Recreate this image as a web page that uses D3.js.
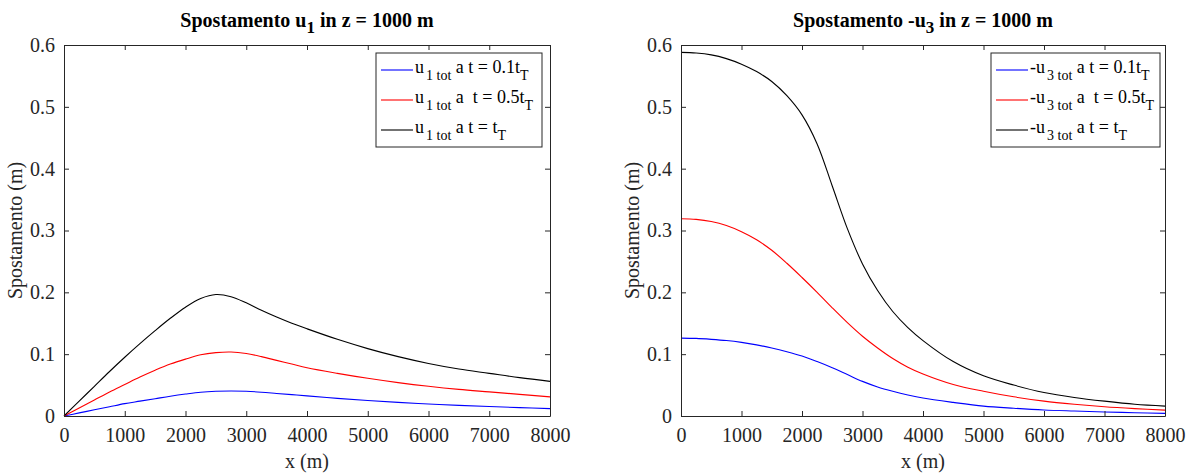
<!DOCTYPE html>
<html>
<head>
<meta charset="utf-8">
<script src="https://cdn.jsdelivr.net/npm/d3@7"></script>
<style>
  html, body { margin: 0; padding: 0; background: #fff; }
  svg text { font-family: "Liberation Serif", "Times New Roman", serif; }
</style>
</head>
<body>
<div id="chart"></div>
<script>
// distances along x (m)
const xVals = [0, 250, 500, 750, 1000, 1250, 1500, 1750, 2000, 2250, 2500, 2750, 3000,
    3250, 3500, 3750, 4000, 4500, 5000, 5500, 6000, 6500, 7000, 7500, 8000];

// u1 tot (m)
const u1Early = [0, 0.005, 0.010, 0.015, 0.020, 0.024, 0.028, 0.032, 0.0355, 0.0385, 0.040, 0.0405, 0.040,
    0.0385, 0.0365, 0.0345, 0.0325, 0.0285, 0.025, 0.022, 0.0195, 0.0172, 0.0153, 0.0136, 0.012];
const u1Mid = [0, 0.013, 0.026, 0.039, 0.051, 0.063, 0.074, 0.084, 0.092, 0.099, 0.1025, 0.1035, 0.101,
    0.096, 0.090, 0.084, 0.078, 0.069, 0.061, 0.054, 0.048, 0.043, 0.039, 0.035, 0.031];
const u1End = [0, 0.024, 0.048, 0.072, 0.095, 0.117, 0.138, 0.158, 0.176, 0.190, 0.1965, 0.193, 0.183,
    0.171, 0.160, 0.150, 0.141, 0.124, 0.109, 0.096, 0.085, 0.076, 0.069, 0.062, 0.056];

// -u3 tot (m)
const u3Early = [0.126, 0.1255, 0.124, 0.122, 0.119, 0.115, 0.110, 0.104, 0.097, 0.088, 0.078, 0.067, 0.056,
    0.047, 0.040, 0.034, 0.029, 0.022, 0.016, 0.0125, 0.0097, 0.008, 0.0065, 0.0053, 0.0043];
const u3Mid = [0.319, 0.318, 0.3145, 0.308, 0.298, 0.285, 0.268, 0.247, 0.224, 0.200, 0.175, 0.151, 0.129,
    0.110, 0.093, 0.079, 0.068, 0.051, 0.040, 0.031, 0.024, 0.019, 0.015, 0.012, 0.0095];
const u3End = [0.588, 0.587, 0.584, 0.578, 0.569, 0.557, 0.541, 0.518, 0.487, 0.440, 0.372, 0.303, 0.246,
    0.203, 0.169, 0.143, 0.122, 0.088, 0.065, 0.050, 0.038, 0.030, 0.024, 0.019, 0.016];

const xTicks = [0, 1000, 2000, 3000, 4000, 5000, 6000, 7000, 8000];
const yTicks = [0, 0.1, 0.2, 0.3, 0.4, 0.5, 0.6];
const seriesColors = ["#0000ff", "#ff0000", "#000000"];
const timeLabels = ["a t = 0.1t", "a  t = 0.5t", "a t = t"];

const width = 1199, height = 473;
const axisColor = "#262626";

const svg = d3.select("#chart").append("svg")
    .attr("width", width)
    .attr("height", height);

const panels = [
    { left: 64, right: 550, top: 45, bottom: 416, pre: "Spostamento u", sub: "1",
      symbol: "u", symSub: "1 tot", series: [u1Early, u1Mid, u1End],
      legend: { x: 376, y: 53, w: 166, h: 94 } },
    { left: 681, right: 1165, top: 45, bottom: 416, pre: "Spostamento -u", sub: "3",
      symbol: "-u", symSub: "3 tot", series: [u3Early, u3Mid, u3End],
      legend: { x: 991, y: 53, w: 169, h: 94 } }
];

panels.forEach(drawPanel);

function drawPanel(p) {
    const x = d3.scaleLinear().domain([0, 8000]).range([p.left, p.right]);
    const y = d3.scaleLinear().domain([0, 0.6]).range([p.bottom, p.top]);

    const g = svg.append("g");

    // curves
    const line = d3.line()
        .x((d, i) => x(xVals[i]))
        .y(d => y(d))
        .curve(d3.curveCatmullRom.alpha(0.5));

    p.series.forEach((s, i) => {
        g.append("path")
            .datum(s)
            .attr("fill", "none")
            .attr("stroke", seriesColors[i])
            .attr("stroke-width", 1.1)
            .attr("d", line);
    });

    // axes, ticks pointing inward on all sides
    const bottomAxis = d3.axisBottom(x).tickValues(xTicks).tickFormat(d3.format("d"))
        .tickSizeInner(-5).tickSizeOuter(0).tickPadding(12);
    const leftAxis = d3.axisLeft(y).tickValues(yTicks).tickFormat(d => d === 0 ? "0" : d3.format(".1f")(d))
        .tickSizeInner(-5).tickSizeOuter(0).tickPadding(9);
    const topAxis = d3.axisTop(x).tickValues(xTicks).tickFormat("").tickSizeInner(-5).tickSizeOuter(0);
    const rightAxis = d3.axisRight(y).tickValues(yTicks).tickFormat("").tickSizeInner(-5).tickSizeOuter(0);

    const axes = [
        [bottomAxis, `translate(0,${p.bottom})`],
        [leftAxis, `translate(${p.left},0)`],
        [topAxis, `translate(0,${p.top})`],
        [rightAxis, `translate(${p.right},0)`]
    ];
    axes.forEach(([ax, tr]) => {
        const a = g.append("g").attr("transform", tr).call(ax)
            .attr("font-family", null).attr("font-size", null);
        a.selectAll("path.domain").attr("stroke", axisColor).attr("stroke-width", 1);
        a.selectAll(".tick line").attr("stroke", axisColor);
        a.selectAll(".tick text")
            .attr("fill", axisColor)
            .attr("font-size", 20);
    });

    // title
    const cx = (p.left + p.right) / 2;
    const title = g.append("text")
        .attr("x", cx)
        .attr("y", 27)
        .attr("text-anchor", "middle")
        .attr("font-size", 20)
        .attr("font-weight", "bold")
        .attr("fill", "#000");
    title.append("tspan").text(p.pre);
    title.append("tspan").attr("dy", 6).attr("font-size", 17).text(p.sub);
    title.append("tspan").attr("dy", -6).text(" in z = 1000 m");

    // axis labels
    g.append("text")
        .attr("x", cx)
        .attr("y", 468)
        .attr("text-anchor", "middle")
        .attr("fill", axisColor)
        .attr("font-size", 20)
        .text("x (m)");

    g.append("text")
        .attr("transform", `translate(${p.left - 42},${(p.top + p.bottom) / 2}) rotate(-90)`)
        .attr("text-anchor", "middle")
        .attr("fill", axisColor)
        .attr("font-size", 20)
        .text("Spostamento (m)");

    // legend
    const L = p.legend;
    const lg = g.append("g");
    lg.append("rect")
        .attr("x", L.x).attr("y", L.y)
        .attr("width", L.w).attr("height", L.h)
        .attr("fill", "#fff")
        .attr("stroke", axisColor)
        .attr("stroke-width", 1);

    timeLabels.forEach((lab, i) => {
        const ly = L.y + 17 + i * 30;
        lg.append("line")
            .attr("x1", L.x + 5).attr("x2", L.x + 37)
            .attr("y1", ly).attr("y2", ly)
            .attr("stroke", seriesColors[i])
            .attr("stroke-width", 1.1);
        const t = lg.append("text")
            .attr("x", L.x + 39)
            .attr("y", ly + 3)
            .attr("fill", "#000")
            .attr("font-size", 18)
            .attr("xml:space", "preserve");
        t.append("tspan").text(p.symbol);
        t.append("tspan").attr("dy", 7).attr("dx", 2).attr("font-size", 14).text(p.symSub);
        t.append("tspan").attr("dy", -7).text(" " + lab);
        t.append("tspan").attr("dy", 7).attr("font-size", 14).text("T");
    });
}
</script>
</body>
</html>
